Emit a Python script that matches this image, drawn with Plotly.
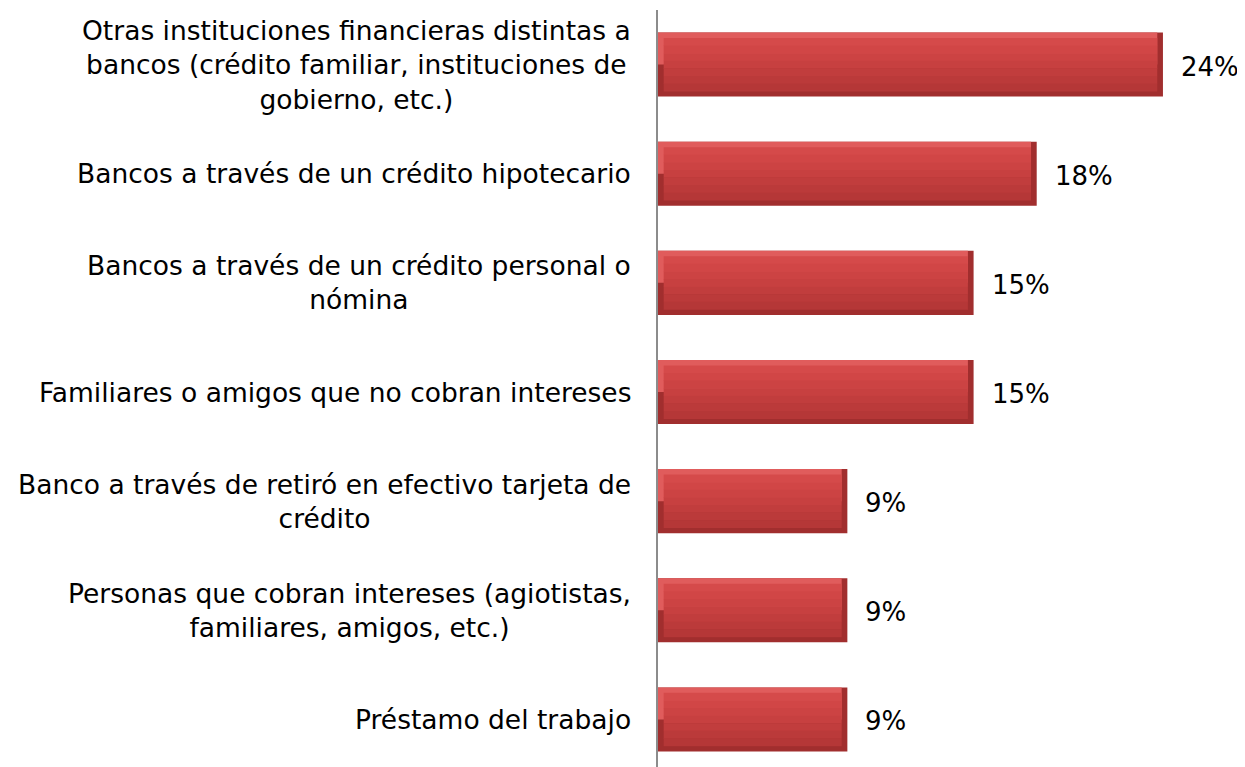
import plotly.graph_objects as go

categories = [
    "Otras instituciones financieras distintas a<br>bancos (crédito familiar, instituciones de<br>gobierno, etc.)",
    "Bancos a través de un crédito hipotecario",
    "Bancos a través de un crédito personal o<br>nómina",
    "Familiares o amigos que no cobran intereses",
    "Banco a través de retiró en efectivo tarjeta de<br>crédito",
    "Personas que cobran intereses (agiotistas,<br>familiares, amigos, etc.)",
    "Préstamo del trabajo",
]
values = [24, 18, 15, 15, 9, 9, 9]
labels = ["24%", "18%", "15%", "15%", "9%", "9%", "9%"]

ypos = list(range(len(categories)))
FONT = "DejaVu Sans"

HALF = 0.2935      # half bar thickness (category units)
BEV_Y = 0.05       # bevel thickness (category units)
BEV_X = 0.27       # bevel thickness (value units)

fig = go.Figure()
# outer bar (dark edge)
fig.add_trace(go.Bar(
    y=ypos, x=values, orientation="h", width=2 * HALF, offset=-HALF,
    marker=dict(color="#a12e2e", line=dict(width=0)),
    hoverinfo="skip", showlegend=False,
))
# top / left highlight bevel
fig.add_trace(go.Bar(
    y=ypos, x=[v - BEV_X for v in values], base=0, orientation="h",
    width=HALF, offset=-HALF,
    marker=dict(color="#e05c5c", line=dict(width=0)),
    hoverinfo="skip", showlegend=False,
))
# face: vertical gradient made from bands
face_colors = ["#d54a4a", "#d14646", "#cc4343", "#c74040", "#c13d3d", "#bb3a3a", "#b53737"]
n = len(face_colors)
face_h = 2 * (HALF - BEV_Y)
band = face_h / n
for k, col in enumerate(face_colors):
    fig.add_trace(go.Bar(
        y=ypos, x=[v - 2 * BEV_X for v in values], base=BEV_X, orientation="h",
        width=band + 0.003, offset=-(HALF - BEV_Y) + k * band,
        marker=dict(color=col, line=dict(width=0)),
        hoverinfo="skip", showlegend=False,
    ))

# value labels
for i, (v, t) in enumerate(zip(values, labels)):
    fig.add_annotation(
        x=v, y=i, xref="x", yref="y", text=t, showarrow=False,
        xanchor="left", yanchor="middle", xshift=16, yshift=-2,
        font=dict(family=FONT, size=26, color="#000000"),
    )

# category labels
for i, c in enumerate(categories):
    fig.add_annotation(
        x=0, y=i, xref="paper", yref="y", text=c, showarrow=False,
        xanchor="right", yanchor="middle", align="center", xshift=-25,
        font=dict(family=FONT, size=26.5, color="#000000"),
    )

fig.update_layout(
    width=1245, height=767,
    margin=dict(l=650, r=0, t=2, b=1),
    paper_bgcolor="white", plot_bgcolor="white",
    barmode="overlay",
    xaxis=dict(range=[0, 28.28], visible=False, fixedrange=True),
    yaxis=dict(range=[6.5, -0.5], showticklabels=False,
               showgrid=False, zeroline=False, showline=True, linecolor="#8c8c8c",
               linewidth=2, ticks=""),
)
fig.write_html("out.html")
